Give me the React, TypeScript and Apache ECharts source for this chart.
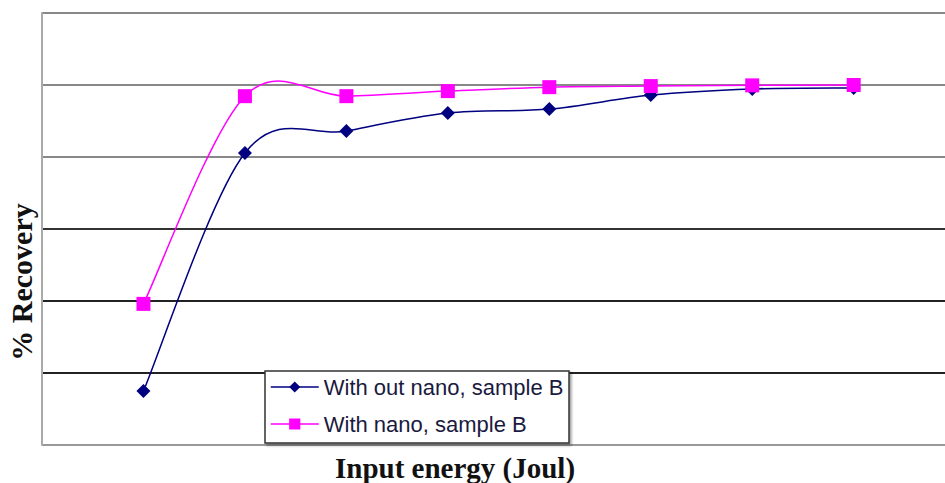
import React, { useEffect, useRef } from "react";
import * as echarts from "echarts";

const energySteps = [1, 2, 3, 4, 5, 6, 7, 8];
const withoutNano = [15.0, 81.1, 87.2, 92.2, 93.3, 97.2, 98.9, 99.2];
const withNano = [39.2, 96.9, 96.9, 98.3, 99.4, 99.7, 99.9, 100];
const seriesNames = ["With out nano, sample B", "With nano, sample B"];
const seriesColors = ["#000080", "#ff00ff"];
const gridColors = ["#999999", "#222222", "#222222", "#333333", "#888888", "#888888", "#888888"];

function smoothCurve(values: number[], color: string) {
  return {
    type: "custom",
    silent: true,
    z: 1,
    clip: false,
    data: energySteps.map((x, i) => [x, values[i]]),
    renderItem: (params: any, api: any) => {
      const i = params.dataIndex;
      const n = values.length;
      if (i >= n - 1) return null;
      const pt = (k: number) => {
        const j = Math.max(0, Math.min(n - 1, k));
        return api.coord([energySteps[j], values[j]]);
      };
      const p0 = pt(i - 1);
      const p1 = pt(i);
      const p2 = pt(i + 1);
      const p3 = pt(i + 2);
      return {
        type: "bezierCurve",
        shape: {
          x1: p1[0],
          y1: p1[1],
          x2: p2[0],
          y2: p2[1],
          cpx1: p1[0] + (p2[0] - p0[0]) / 6,
          cpy1: p1[1] + (p2[1] - p0[1]) / 6,
          cpx2: p2[0] - (p3[0] - p1[0]) / 6,
          cpy2: p2[1] - (p3[1] - p1[1]) / 6,
        },
        style: { stroke: color, lineWidth: 1.5, fill: "none" },
      };
    },
  };
}

export default function App() {
  const ref = useRef<HTMLDivElement>(null);
  useEffect(() => {
    if (!ref.current) return;
    const chart = echarts.init(ref.current, undefined, { renderer: "svg" });
    chart.setOption({
      animation: false,
      backgroundColor: "#ffffff",
      grid: { left: 42, right: 0, top: 13, bottom: 38 },
      xAxis: {
        type: "value",
        min: 0,
        max: 8.9,
        axisLine: { show: false },
        axisTick: { show: false },
        axisLabel: { show: false },
        splitLine: { show: false },
      },
      yAxis: {
        type: "value",
        min: 0,
        max: 120,
        interval: 20,
        axisLine: { show: true, lineStyle: { color: "#aaaaaa", width: 2 } },
        axisTick: { show: false },
        axisLabel: { show: false },
        splitLine: { show: true, lineStyle: { color: gridColors, width: 2 } },
      },
      legend: {
        orient: "vertical",
        left: 270,
        top: 376,
        padding: 0,
        itemGap: 15,
        itemWidth: 48,
        itemHeight: 14,
        z: 10,
        textStyle: { fontFamily: "Liberation Sans", fontSize: 22, lineHeight: 22, color: "#1a1a40" },
        data: seriesNames.map((name, i) => ({
          name,
          lineStyle: { color: seriesColors[i], width: 1.5, opacity: 1 },
        })),
      },
      series: [
        smoothCurve(withoutNano, seriesColors[0]),
        smoothCurve(withNano, seriesColors[1]),
        {
          name: seriesNames[0],
          type: "line",
          data: energySteps.map((x, i) => [x, withoutNano[i]]),
          symbol: "diamond",
          symbolSize: 14,
          lineStyle: { color: seriesColors[0], width: 1.5, opacity: 0 },
          itemStyle: { color: seriesColors[0] },
          z: 2,
        },
        {
          name: seriesNames[1],
          type: "line",
          data: energySteps.map((x, i) => [x, withNano[i]]),
          symbol: "rect",
          symbolSize: 14,
          lineStyle: { color: seriesColors[1], width: 1.5, opacity: 0 },
          itemStyle: { color: seriesColors[1] },
          z: 3,
        },
      ],
      graphic: [
        {
          type: "rect",
          z: 5,
          shape: { x: 265, y: 371, width: 304, height: 72 },
          style: {
            fill: "#ffffff",
            stroke: "#333333",
            lineWidth: 1.5,
            shadowColor: "rgba(0,0,0,0.35)",
            shadowOffsetX: 2,
            shadowOffsetY: 2,
            shadowBlur: 2,
          },
        },
        {
          type: "text",
          x: 21,
          y: 282,
          rotation: Math.PI / 2,
          style: {
            text: "% Recovery",
            font: "bold 30px 'Liberation Serif'",
            fill: "#111111",
            align: "center",
            verticalAlign: "middle",
          },
        },
        {
          type: "text",
          x: 455,
          y: 468,
          style: {
            text: "Input energy (Joul)",
            font: "bold 29px 'Liberation Serif'",
            fill: "#111111",
            align: "center",
            verticalAlign: "middle",
          },
        },
      ],
    });
    return () => chart.dispose();
  }, []);
  return <div ref={ref} style={{ width: 945, height: 483, position: "absolute", left: 0, top: 0 }} />;
}
